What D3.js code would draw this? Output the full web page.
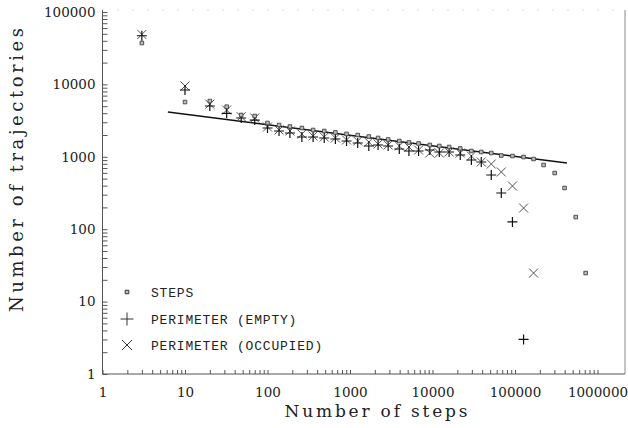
<!DOCTYPE html>
<html><head><meta charset="utf-8">
<script src="https://cdn.jsdelivr.net/npm/d3@7"></script>
<style>body{margin:0;background:#fff}svg{display:block;background:#fff}</style>
</head><body>
<svg id="c" width="628" height="428"></svg>
<script>
// ---- data ----
const xBins = [3, 10, 20, 32, 48, 70, 100, 138, 187, 261, 357, 487, 665, 908, 1240, 1690, 2190, 2900, 3960, 5180, 6780, 9270, 12100, 15900, 21700, 29600, 39000, 51600, 68200, 93100, 127000, 168000, 222000, 303000, 399000, 545000, 719000];
const stepsCounts = [37300, 5710, 5890, 4920, 3780, 3660, 2930, 2750, 2620, 2500, 2345, 2270, 2170, 2070, 2000, 1905, 1820, 1735, 1652, 1577, 1527, 1456, 1410, 1366, 1303, 1202, 1164, 1128, 1042, 1025, 993, 933, 771, 597, 371, 147, 24.8];
const emptyCounts = [47000, 8370, 5030, 3990, 3435, 3220, 2500, 2272, 2132, 1877, 1877, 1818, 1762, 1653, 1551, 1410, 1455, 1410, 1281, 1202, 1202, 1241, 1165, 1165, 1059, 903, 848, 561, 316, 126, 3];
const occupiedCounts = [49000, 9500, 5330, 4430, 3580, 3435, 2580, 2346, 2272, 2065, 1938, 1877, 1818, 1706, 1653, 1601, 1502, 1455, 1410, 1366, 1241, 1128, 1128, 1165, 1128, 1026, 848, 795, 617, 395, 196, 24.8];
const fitLine = [[6.2, 4160], [426000, 821]];
const xTickLabels = ["1", "10", "100", "1000", "10000", "100000", "1000000"];
const yTickLabels = ["1", "10", "100", "1000", "10000", "100000"];
const legendLabels = ["STEPS", "PERIMETER (EMPTY)", "PERIMETER (OCCUPIED)"];
const xTitle = "Number of steps";
const yTitle = "Number of trajectories";

// ---- layout ----
const svg = d3.select("#c");
const left = 102.5, bottom = 374, frameRight = 625, frameTop = 10;
const x = d3.scaleLog().domain([1, 1e6]).range([left, 597.5]);
const y = d3.scaleLog().domain([1, 1e5]).range([bottom, 12]);
const serif = "'DejaVu Serif', serif";

const majorsX = xTickLabels.map(Number), majorsY = yTickLabels.map(Number);
const xTicks = [], yTicks = [];
for (let d = 0; d < 6; d++) for (let k = 1; k <= 9; k++) xTicks.push(k * Math.pow(10, d));
xTicks.push(1e6);
for (let d = 0; d < 5; d++) for (let k = 1; k <= 9; k++) yTicks.push(k * Math.pow(10, d));
yTicks.push(1e5);

// frame
svg.append("line").attr("x1", left).attr("x2", frameRight).attr("y1", bottom).attr("y2", bottom).attr("stroke", "#555").attr("stroke-width", 1);
svg.append("line").attr("x1", left).attr("x2", left).attr("y1", frameTop).attr("y2", bottom).attr("stroke", "#555").attr("stroke-width", 1);
svg.append("line").attr("x1", frameRight).attr("x2", frameRight).attr("y1", frameTop).attr("y2", bottom).attr("stroke", "#888").attr("stroke-width", 1);
svg.append("line").attr("x1", left).attr("x2", frameRight).attr("y1", frameTop).attr("y2", frameTop).attr("stroke", "#bbb").attr("stroke-width", 1).attr("stroke-dasharray", "1 14");

// axes
const fmtX = d => { const i = majorsX.indexOf(d); return i >= 0 ? xTickLabels[i] : ""; };
const fmtY = d => { const i = majorsY.findIndex(m => Math.abs(m - d) < 1e-6 * m); return i >= 0 ? yTickLabels[i] : ""; };
const gx = svg.append("g").attr("transform", `translate(0,${bottom})`)
  .call(d3.axisBottom(x).tickValues(xTicks).tickFormat(fmtX).tickSize(-4).tickSizeOuter(0).tickPadding(13));
const gy = svg.append("g").attr("transform", `translate(${left},0)`)
  .call(d3.axisLeft(y).tickValues(yTicks).tickFormat(fmtY).tickSize(-5).tickSizeOuter(0).tickPadding(7));
[gx, gy].forEach(g => {
  g.select(".domain").remove();
  g.selectAll(".tick line").attr("stroke", "#555").attr("stroke-width", 1);
  g.selectAll(".tick text").attr("font-family", serif).attr("font-size", 13.5).attr("fill", "#222");
});

// titles
svg.append("text").attr("x", 376).attr("y", 417).attr("text-anchor", "middle")
  .attr("font-family", serif).attr("font-size", 17).attr("fill", "#222")
  .attr("textLength", 183).attr("lengthAdjust", "spacing").text(xTitle);
svg.append("text").attr("transform", "translate(23,170) rotate(-90)").attr("text-anchor", "middle")
  .attr("font-family", serif).attr("font-size", 18).attr("fill", "#222")
  .attr("textLength", 284).attr("lengthAdjust", "spacing").text(yTitle);

// fit line
svg.append("path").datum(fitLine)
  .attr("d", d3.line().x(d => x(d[0])).y(d => y(d[1])))
  .attr("fill", "none").attr("stroke", "#111").attr("stroke-width", 1.6);

// markers
const plusPath = s => `M${-s},0H${s}M0,${-s}V${s}`;
const crossPath = s => `M${-s},${-s}L${s},${s}M${-s},${s}L${s},${-s}`;
const sqPath = s => `M${-s},${-s}h${2*s}v${2*s}h${-2*s}z`;

svg.append("g").selectAll("path").data(occupiedCounts.map((v, i) => [xBins[i], v]))
  .join("path").attr("transform", d => `translate(${x(d[0])},${y(d[1])})`)
  .attr("d", crossPath(4.5)).attr("stroke", "#555").attr("stroke-width", 1).attr("fill", "none");
svg.append("g").selectAll("path").data(emptyCounts.map((v, i) => [xBins[i], v]))
  .join("path").attr("transform", d => `translate(${x(d[0])},${y(d[1])})`)
  .attr("d", plusPath(5)).attr("stroke", "#111").attr("stroke-width", 1.2).attr("fill", "none");
svg.append("g").selectAll("path").data(stepsCounts.map((v, i) => [xBins[i], v]))
  .join("path").attr("transform", d => `translate(${x(d[0])},${y(d[1])})`)
  .attr("d", sqPath(1.8)).attr("stroke", "#444").attr("stroke-width", 0.9).attr("fill", "#bbb");

// legend
const legRows = [292, 319, 345], legMarkX = 127, legTextX = 151;
const legShapes = [sqPath(1.8), plusPath(6.5), crossPath(5)];
const legend = svg.append("g");
legendLabels.forEach((lab, i) => {
  legend.append("path").attr("transform", `translate(${legMarkX},${legRows[i]})`).attr("d", legShapes[i])
    .attr("stroke", "#333").attr("stroke-width", 1).attr("fill", i === 0 ? "#bbb" : "none");
  legend.append("text").attr("x", legTextX).attr("y", legRows[i] + 4.5)
    .attr("font-family", "'Liberation Mono', monospace").attr("font-size", 13).attr("fill", "#222")
    .attr("letter-spacing", 0.8).text(lab);
});
</script>
</body></html>
